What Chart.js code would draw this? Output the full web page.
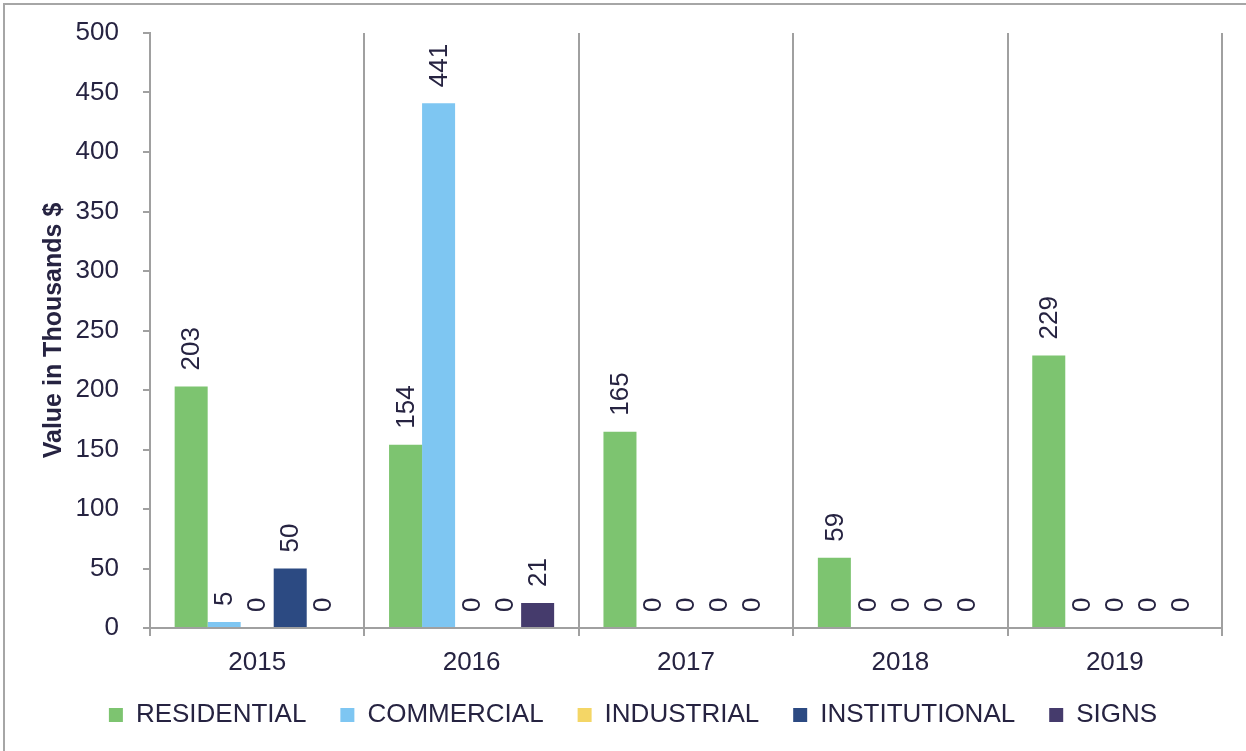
<!DOCTYPE html>
<html>
<head>
<meta charset="utf-8">
<script src="https://cdn.jsdelivr.net/npm/chart.js@4/dist/chart.umd.min.js"></script>
<style>
    html, body { margin: 0; padding: 0; background: #fff; overflow: hidden; }
    #frame {
        position: absolute;
        left: 3px;
        top: 3px;
        width: 1300px;
        height: 800px;
        border: 2px solid #a6a6a6;
    }
    #permitChart { position: absolute; left: 0; top: 0; }
</style>
</head>
<body>
<div id="frame"></div>
<canvas id="permitChart" width="1246" height="751"></canvas>
<script>
const years = ["2015", "2016", "2017", "2018", "2019"];
const residential = [203, 154, 165, 59, 229];
const commercial = [5, 441, 0, 0, 0];
const industrial = [0, 0, 0, 0, 0];
const institutional = [50, 0, 0, 0, 0];
const signs = [0, 21, 0, 0, 0];
const yTicks = [0, 50, 100, 150, 200, 250, 300, 350, 400, 450, 500];

const textColor = "#262341";
const lineColor = "#a0a0a0";
const fontFamily = "'Liberation Sans', Arial, sans-serif";

// value labels, rotated, sitting just above each bar
const barLabels = {
    id: "barLabels",
    afterDatasetsDraw(chart) {
        const ctx = chart.ctx;
        ctx.save();
        ctx.font = "26px " + fontFamily;
        ctx.fillStyle = textColor;
        ctx.textAlign = "left";
        ctx.textBaseline = "middle";
        chart.data.datasets.forEach((ds, i) => {
            const meta = chart.getDatasetMeta(i);
            meta.data.forEach((bar, j) => {
                ctx.save();
                ctx.translate(bar.x + 1, bar.y - 16);
                ctx.rotate(-Math.PI / 2);
                ctx.fillText(String(ds.data[j]), 0, 0);
                ctx.restore();
            });
        });
        ctx.restore();
    }
};

// pull the legend a little closer to the year labels
const legendLift = {
    id: "legendLift",
    afterLayout(chart) {
        chart.legend.top -= 6;
        chart.legend.bottom -= 6;
    }
};

const ctx = document.getElementById("permitChart").getContext("2d");

new Chart(ctx, {
    type: "bar",
    data: {
        labels: years,
        datasets: [
            { label: "RESIDENTIAL", data: residential, backgroundColor: "#7dc470" },
            { label: "COMMERCIAL", data: commercial, backgroundColor: "#7ec6f2" },
            { label: "INDUSTRIAL", data: industrial, backgroundColor: "#f4d666" },
            { label: "INSTITUTIONAL", data: institutional, backgroundColor: "#2c4a82" },
            { label: "SIGNS", data: signs, backgroundColor: "#453b6c" }
        ]
    },
    options: {
        responsive: false,
        animation: false,
        datasets: {
            bar: {
                barPercentage: 1,
                categoryPercentage: 0.77
            }
        },
        layout: {
            padding: { top: 33, right: 24, bottom: 7, left: 44 }
        },
        plugins: {
            legend: {
                display: true,
                position: "bottom",
                labels: {
                    boxWidth: 14,
                    boxHeight: 14,
                    padding: 34,
                    color: textColor,
                    font: { family: fontFamily, size: 26 }
                }
            },
            tooltip: { enabled: false }
        },
        scales: {
            x: {
                offset: true,
                afterFit: scale => { scale.height = 46; },
                grid: {
                    offset: true,
                    color: lineColor,
                    lineWidth: 2,
                    tickLength: 8,
                    drawOnChartArea: true
                },
                border: { color: lineColor, width: 2 },
                ticks: {
                    color: textColor,
                    padding: 11,
                    font: { family: fontFamily, size: 26 }
                }
            },
            y: {
                min: 0,
                max: 500,
                afterFit: scale => {
                    scale.width = 106;
                    // label gap should not push the plot area down
                    scale.paddingTop = 0;
                    scale.paddingBottom = 0;
                },
                afterBuildTicks: scale => {
                    scale.ticks = yTicks.map(v => ({ value: v }));
                },
                grid: {
                    drawOnChartArea: false,
                    color: lineColor,
                    lineWidth: 2,
                    tickLength: 7
                },
                border: { color: lineColor, width: 2 },
                ticks: {
                    color: textColor,
                    padding: 24,
                    font: { family: fontFamily, size: 26 }
                },
                title: {
                    display: true,
                    text: "Value in Thousands $",
                    color: textColor,
                    padding: { top: -5, bottom: 0 },
                    font: { family: fontFamily, size: 25, weight: "bold" }
                }
            }
        }
    },
    plugins: [barLabels, legendLift]
});
</script>
</body>
</html>
